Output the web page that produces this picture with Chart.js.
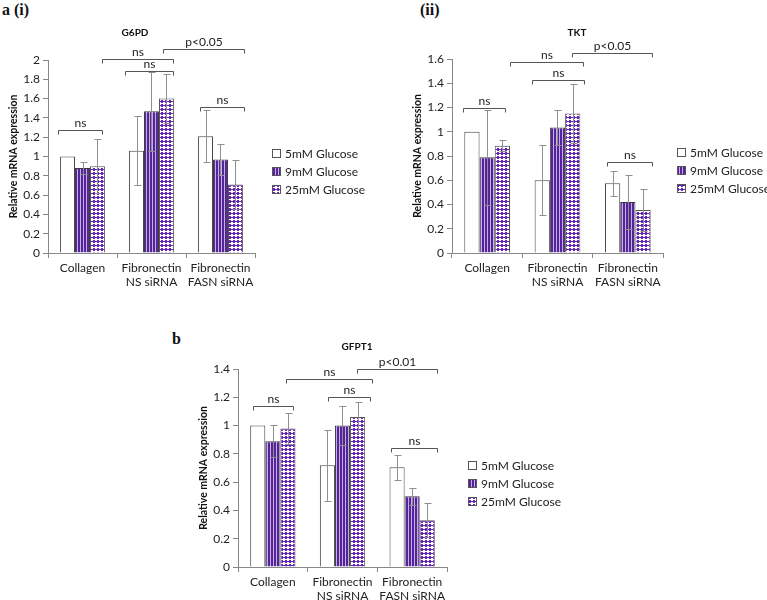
<!DOCTYPE html>
<html>
<head>
<meta charset="utf-8">
<script src="https://cdn.jsdelivr.net/npm/chart.js@4.4.1/dist/chart.umd.min.js"></script>
<style>
  body { margin: 0; background: #fff; width: 767px; height: 600px; position: relative; overflow: hidden; }
  canvas { position: absolute; }
  .panel { position: absolute; font: bold 16px "Liberation Serif", serif; color: #111; line-height: 1; }
</style>
</head>
<body>
<div class="panel" style="left:2px;top:2px">a (i)</div>
<div class="panel" style="left:420px;top:2px">(ii)</div>
<div class="panel" style="left:172px;top:331px">b</div>
<canvas id="g6pd" width="380" height="300" style="left:0;top:0"></canvas>
<canvas id="tkt" width="387" height="300" style="left:380px;top:0"></canvas>
<canvas id="gfpt1" width="440" height="300" style="left:160px;top:300px"></canvas>
<script>
// categories and series
var categories = ['Collagen', ['Fibronectin', 'NS siRNA'], ['Fibronectin', 'FASN siRNA']];
var seriesNames = ['5mM Glucose', '9mM Glucose', '25mM Glucose'];

// G6PD
var g6pd5 = [1.00, 1.06, 1.21];
var g6pd9 = [0.88, 1.47, 0.97];
var g6pd25 = [0.90, 1.60, 0.71];
var g6pdErr5 = [0, 0.36, 0.27];
var g6pdErr9 = [0.06, 0.41, 0.16];
var g6pdErr25 = [0.28, 0.25, 0.25];
// [from, to] in category units, height in data units, label
var g6pdBrackets = [
  [-0.355, 0.283, 1.27, 'ns'],
  [0.616, 1.31, 1.89, 'ns'],
  [0.283, 1.31, 2.01, 'ns'],
  [1.167, 2.34, 2.11, 'p<0.05'],
  [1.70, 2.34, 1.51, 'ns']
];

// TKT
var tkt5 = [1.00, 0.60, 0.575];
var tkt9 = [0.79, 1.035, 0.42];
var tkt25 = [0.885, 1.15, 0.355];
var tktErr5 = [0, 0.29, 0.105];
var tktErr9 = [0.39, 0.145, 0.22];
var tktErr25 = [0.045, 0.24, 0.175];
var tktBrackets = [
  [-0.34, 0.26, 1.20, 'ns'],
  [0.64, 1.37, 1.43, 'ns'],
  [0.33, 1.36, 1.575, 'ns'],
  [1.20, 2.34, 1.65, 'p<0.05'],
  [1.71, 2.34, 0.75, 'ns']
];

// GFPT1
var gfpt5 = [1.00, 0.72, 0.705];
var gfpt9 = [0.89, 1.00, 0.50];
var gfpt25 = [0.98, 1.06, 0.33];
var gfptErr5 = [0, 0.25, 0.09];
var gfptErr9 = [0.115, 0.135, 0.06];
var gfptErr25 = [0.11, 0.11, 0.12];
var gfptBrackets = [
  [-0.29, 0.29, 1.14, 'ns'],
  [0.79, 1.39, 1.20, 'ns'],
  [0.19, 1.43, 1.33, 'ns'],
  [1.21, 2.36, 1.40, 'p<0.01'],
  [1.70, 2.36, 0.84, 'ns']
];

var FONT = 'Lato, "Open Sans", sans-serif';

function makePattern(w, h, draw) {
  var c = document.createElement('canvas');
  c.width = w; c.height = h;
  var g = c.getContext('2d');
  draw(g);
  return document.getElementById('g6pd').getContext('2d').createPattern(c, 'repeat');
}

var stripes = makePattern(3, 1, function (g) {
  g.fillStyle = '#56249a'; g.fillRect(0, 0, 2, 1);
  g.fillStyle = '#c4b0e4'; g.fillRect(2, 0, 1, 1);
});
var dots = makePattern(4, 4, function (g) {
  g.fillStyle = '#ffffff'; g.fillRect(0, 0, 4, 4);
  g.fillStyle = '#6425b8';
  g.fillRect(1, 0, 2, 3);
  g.fillRect(0, 1, 4, 1);
});
var fills = ['#ffffff', stripes, dots];
var borders = ['#444444', '#3a3a3a', '#555555'];

var extras = {
  id: 'extras',
  afterDraw: function (chart, args, o) {
    var ctx = chart.ctx, xs = chart.scales.x, ys = chart.scales.y;
    ctx.save();
    // error bars
    ctx.strokeStyle = '#8f8f8f';
    ctx.lineWidth = 1;
    chart.data.datasets.forEach(function (ds, i) {
      chart.getDatasetMeta(i).data.forEach(function (bar, j) {
        var e = o.errors[i][j];
        if (!e) return;
        var v = ds.data[j];
        var px = Math.round(bar.x) + 0.5;
        var y1 = Math.round(ys.getPixelForValue(v - e)) + 0.5;
        var y2 = Math.round(ys.getPixelForValue(v + e)) + 0.5;
        ctx.beginPath();
        ctx.moveTo(px, y1); ctx.lineTo(px, y2);
        ctx.moveTo(px - 3, y1); ctx.lineTo(px + 4, y1);
        ctx.moveTo(px - 3, y2); ctx.lineTo(px + 4, y2);
        ctx.stroke();
      });
    });
    // significance brackets
    var x0 = xs.getPixelForValue(0);
    var step = xs.getPixelForValue(1) - x0;
    o.brackets.forEach(function (b) {
      var x1 = Math.round(x0 + b[0] * step) + 0.5;
      var x2 = Math.round(x0 + b[1] * step) + 0.5;
      var py = Math.round(ys.getPixelForValue(b[2])) + 0.5;
      ctx.strokeStyle = '#555';
      ctx.beginPath();
      ctx.moveTo(x1, py + 4); ctx.lineTo(x1, py); ctx.lineTo(x2, py); ctx.lineTo(x2, py + 4);
      ctx.stroke();
      ctx.fillStyle = '#222';
      ctx.font = '12px ' + FONT;
      ctx.textAlign = 'center';
      ctx.textBaseline = 'bottom';
      ctx.fillText(b[3], (x1 + x2) / 2, py - 1);
    });
    // title
    ctx.fillStyle = '#111';
    ctx.font = 'bold 10px ' + FONT;
    ctx.textAlign = 'center';
    ctx.textBaseline = 'middle';
    ctx.fillText(o.title, o.titleX, o.titleY);
    // legend
    ctx.font = '12px ' + FONT;
    ctx.textAlign = 'left';
    chart.data.datasets.forEach(function (ds, i) {
      var ly = o.legendY + i * 18;
      ctx.fillStyle = ds.backgroundColor;
      ctx.fillRect(o.legendX, ly - 4, 9, 9);
      ctx.strokeStyle = '#555';
      ctx.strokeRect(o.legendX + 0.5, ly - 3.5, 8, 8);
      ctx.fillStyle = '#222';
      ctx.fillText(ds.label, o.legendX + 13, ly + 1);
    });
    ctx.restore();
  }
};

function makeChart(id, series, errs, brackets, setup) {
  new Chart(document.getElementById(id), {
    type: 'bar',
    data: {
      labels: categories,
      datasets: series.map(function (d, i) {
        return {
          label: seriesNames[i],
          data: d,
          backgroundColor: fills[i],
          borderColor: borders[i],
          borderWidth: 1,
          categoryPercentage: 0.65,
          barPercentage: 1
        };
      })
    },
    plugins: [extras],
    options: {
      responsive: false,
      animation: false,
      layout: { padding: setup.padding },
      plugins: {
        legend: { display: false },
        tooltip: { enabled: false },
        extras: {
          errors: errs, brackets: brackets, title: setup.title,
          titleX: setup.titleX, titleY: setup.titleY,
          legendX: setup.legendX, legendY: setup.legendY
        }
      },
      scales: {
        x: {
          afterFit: function (s) { s.height = setup.xHeight; },
          grid: { display: true, drawOnChartArea: false, tickLength: 5, color: '#888' },
          border: { color: '#888' },
          ticks: { color: '#222', padding: 3, font: { family: FONT, size: 12 }, maxRotation: 0 }
        },
        y: {
          min: 0, max: setup.max,
          afterFit: function (s) { s.width = 48; },
          grid: { display: true, drawOnChartArea: false, tickLength: 5, color: '#888' },
          border: { color: '#888' },
          ticks: {
            stepSize: 0.2, color: '#222', padding: 3, font: { family: FONT, size: 12 },
            callback: function (v) { return String(+v.toFixed(1)); }
          },
          title: {
            display: true, text: 'Relative mRNA expression', color: '#111',
            font: { family: FONT, size: 10.5, weight: 'bold' }, padding: { top: 7, bottom: 0 }
          }
        }
      }
    }
  });
}

makeChart('g6pd', [g6pd5, g6pd9, g6pd25], [g6pdErr5, g6pdErr9, g6pdErr25], g6pdBrackets, {
  padding: { left: 0, top: 60, right: 125, bottom: 0 }, xHeight: 47, max: 2,
  title: 'G6PD', titleX: 135, titleY: 33, legendX: 272, legendY: 153
});
makeChart('tkt', [tkt5, tkt9, tkt25], [tktErr5, tktErr9, tktErr25], tktBrackets, {
  padding: { left: 24, top: 59, right: 104, bottom: 0 }, xHeight: 47, max: 1.6,
  title: 'TKT', titleX: 197, titleY: 33, legendX: 297, legendY: 152
});
makeChart('gfpt1', [gfpt5, gfpt9, gfpt25], [gfptErr5, gfptErr9, gfptErr25], gfptBrackets, {
  padding: { left: 30, top: 69, right: 153, bottom: 0 }, xHeight: 33, max: 1.4,
  title: 'GFPT1', titleX: 197, titleY: 47, legendX: 308, legendY: 165
});
</script>
</body>
</html>
